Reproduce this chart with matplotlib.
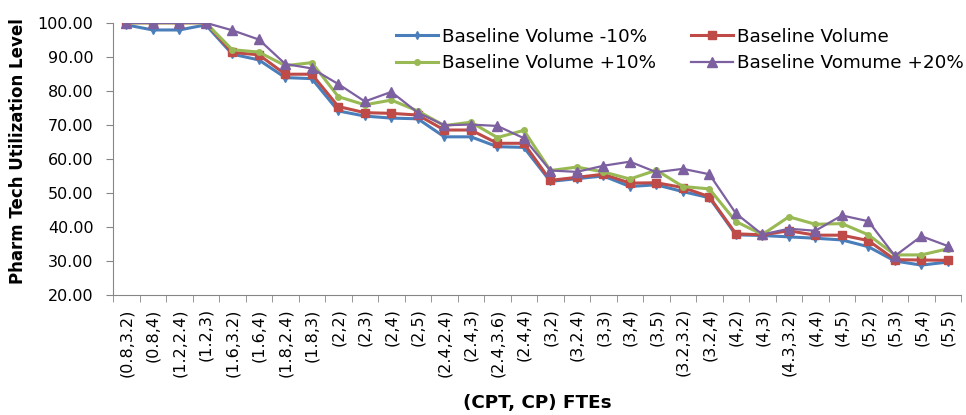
import matplotlib
matplotlib.use("Agg")
import matplotlib.pyplot as plt
import numpy as np

plt.rcParams['font.family'] = ['DejaVu Sans']

# categories on the x axis: (CPT, CP) FTE pairs
categories = ['(0.8,3.2)', '(0.8,4)', '(1.2,2.4)', '(1.2,3)', '(1.6,3.2)', '(1.6,4)',
              '(1.8,2.4)', '(1.8,3)', '(2,2)', '(2,3)', '(2,4)', '(2,5)',
              '(2.4,2.4)', '(2.4,3)', '(2.4,3.6)', '(2.4,4)', '(3,2)', '(3,2.4)',
              '(3,3)', '(3,4)', '(3,5)', '(3.2,3.2)', '(3.2,4)', '(4,2)', '(4,3)',
              '(4.3,3.2)', '(4,4)', '(4,5)', '(5,2)', '(5,3)', '(5,4)', '(5,5)']

vol_minus10 = [99.4, 97.9, 97.9, 99.4, 90.8, 89.1, 83.9, 83.6, 74.1, 72.6, 72.0, 71.8,
               66.5, 66.5, 63.6, 63.4, 53.4, 54.2, 55.0, 51.9, 52.4, 50.4, 48.6, 37.7,
               37.5, 37.1, 36.7, 36.2, 34.2, 30.0, 28.8, 29.7]
vol_base = [100.0, 100.0, 100.0, 100.0, 91.3, 90.6, 84.9, 84.9, 75.4, 73.6, 73.4, 72.9,
            68.5, 68.5, 64.6, 64.6, 53.7, 54.6, 55.5, 52.9, 53.0, 51.6, 48.9, 38.0,
            37.7, 38.9, 37.6, 37.6, 36.0, 30.4, 30.3, 30.2]
vol_plus10 = [100.0, 100.0, 100.0, 100.0, 92.1, 91.4, 87.4, 88.3, 78.3, 75.9, 77.3, 74.1,
              69.8, 70.8, 66.3, 68.4, 56.6, 57.6, 56.2, 54.1, 56.7, 51.9, 51.2, 41.6,
              37.8, 43.0, 40.8, 41.0, 37.7, 31.8, 31.8, 33.6]
vol_plus20 = [100.0, 100.0, 100.0, 100.0, 97.8, 95.1, 87.9, 86.6, 82.0, 76.9, 79.7, 73.6,
              69.9, 70.1, 69.7, 66.1, 56.6, 56.2, 58.0, 59.2, 56.1, 57.1, 55.5, 44.0,
              37.8, 39.5, 38.9, 43.4, 41.7, 31.5, 37.3, 34.4]

yticks = np.arange(20, 101, 10)

fig = plt.figure(figsize=(9.66, 4.15), dpi=100)
ax = fig.add_axes([0.117, 0.289, 0.878, 0.656])

x = np.arange(len(categories))
l1, = ax.plot(x, vol_minus10, color='#4A7EBB', lw=2.2, marker='d', ms=4, label='Baseline Volume -10%')
l2, = ax.plot(x, vol_base, color='#BE4B48', lw=2.2, marker='s', ms=6, label='Baseline Volume')
l3, = ax.plot(x, vol_plus10, color='#98B954', lw=2.2, marker='o', ms=4, label='Baseline Volume +10%')
l4, = ax.plot(x, vol_plus20, color='#7D60A0', lw=1.6, marker='^', ms=6.5, label='Baseline Vomume +20%')

ax.set_xlim(-0.5, len(categories) - 0.5)
ax.set_ylim(20, 100)
ax.set_yticks(yticks)
ax.set_yticklabels(['%.2f' % v for v in yticks], fontsize=11.5)
ax.set_xticks(x)
ax.set_xticklabels(categories, rotation=90, fontsize=11.5)
ax.set_xticks(np.arange(-0.5, len(categories), 1), minor=True)
ax.tick_params(axis='x', which='major', length=0, pad=9.5)
ax.tick_params(axis='x', which='minor', length=5, color='#868686')
ax.tick_params(axis='y', length=5, color='#868686', pad=9)

for s in ['top', 'right']:
    ax.spines[s].set_visible(False)
for s in ['left', 'bottom']:
    ax.spines[s].set_color('#868686')

fig.text(18 / 966, 1 - 151 / 415, 'Pharm Tech Utilization Level', rotation=90,
         ha='center', va='center', fontsize=12, fontweight='bold')
fig.text(537 / 966, 1 - 403 / 415, '(CPT, CP) FTEs', ha='center', va='center',
         fontsize=13.2, fontweight='bold')

# excel fills the legend row by row
fig.legend([l1, l3, l2, l4], [l.get_label() for l in (l1, l3, l2, l4)],
           loc='upper left', bbox_to_anchor=(379 / 966, 1 - 11 / 415), ncol=2,
           frameon=False, fontsize=13.2, handlelength=2.3, handletextpad=0.22,
           columnspacing=1.9, labelspacing=0.48)

fig.savefig('out.png', dpi=100)
